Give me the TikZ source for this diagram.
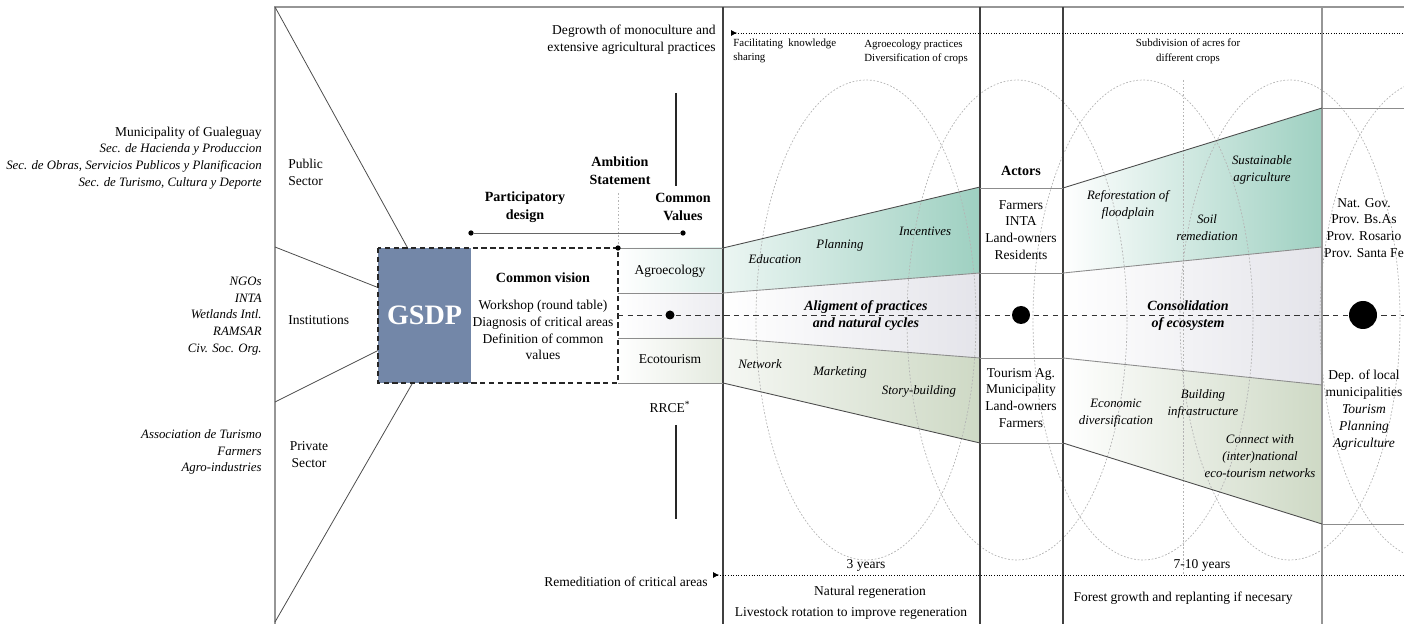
\documentclass[tikz,border=0pt]{standalone}
\usepackage{fontspec}
\setmainfont{Liberation Serif}
\usetikzlibrary{arrows.meta}

\definecolor{gsdpblue}{RGB}{115,135,168}
\definecolor{bandteal}{RGB}{158,208,193}
\definecolor{bandsage}{RGB}{206,217,197}
\definecolor{bandgray}{RGB}{228,228,234}
\definecolor{framegray}{RGB}{150,150,150}
\definecolor{ovalgray}{RGB}{180,180,180}

\begin{document}
\begin{tikzpicture}[
    x=0.02cm, y=-0.02cm,
    font=\fontsize{7.7}{9.6}\selectfont,
    framerule/.style={draw=framegray, line width=0.6pt},
    darkrule/.style={draw=black!75, line width=0.6pt},
    bandedge/.style={draw=black!70, line width=0.5pt},
    softedge/.style={draw=black!45, line width=0.5pt},
    fanline/.style={draw=black!70, line width=0.45pt},
    timeline/.style={densely dotted, line width=0.5pt, {Latex[reversed,length=3.5pt,width=3.5pt]}-},
    oval/.style={draw=ovalgray, dash pattern=on 1pt off 1pt, line width=0.4pt},
    bodytext/.style={align=center, inner sep=0pt},
    sidetext/.style={align=right, anchor=east, inner sep=0pt, font=\fontsize{7.3}{9.6}\selectfont\itshape},
    smalltext/.style={align=left, anchor=west, inner sep=0pt, font=\fontsize{6.2}{8.4}\selectfont},
    headtext/.style={align=center, inner sep=0pt, font=\fontsize{8}{10.2}\selectfont\bfseries},
    bandtext/.style={align=center, inner sep=0pt, font=\fontsize{7.3}{9.6}\selectfont\itshape},
    goaltext/.style={align=center, inner sep=0pt, font=\fontsize{8}{9.6}\selectfont\bfseries\itshape},
    stagedot/.style={circle, fill=black, inner sep=0pt},
    gsdpbox/.style={fill=gsdpblue, text=white, inner sep=0pt, outer sep=0pt, minimum width=1.86cm, minimum height=2.7cm, font=\fontsize{16}{18}\selectfont\bfseries},
]
\useasboundingbox (0,0) rectangle (1404,624);

% shaded bands
\shade[left color=white, right color=bandteal!35] (618,248) rectangle (723,293);
\shade[left color=white, right color=bandgray!70] (618,293) rectangle (723,338);
\shade[left color=white, right color=bandsage!55] (618,338) rectangle (723,383);
\shade[left color=bandteal!20, right color=bandteal] (723,248) -- (980,187) -- (980,273) -- (723,293) -- cycle;
\shade[left color=white, right color=bandgray] (723,293) -- (980,273) -- (980,358) -- (723,338) -- cycle;
\shade[left color=bandsage!20, right color=bandsage] (723,338) -- (980,358) -- (980,443) -- (723,383) -- cycle;
\shade[left color=white, right color=bandteal] (1063,188) -- (1322,108) -- (1322,247) -- (1063,273) -- cycle;
\shade[left color=white, right color=bandgray] (1063,273) -- (1322,247) -- (1322,385) -- (1063,358) -- cycle;
\shade[left color=white, right color=bandsage] (1063,358) -- (1322,385) -- (1322,524) -- (1063,443) -- cycle;

\begin{scope}
\clip (723,7) rectangle (1404,624);
\foreach \cx in {866,1017,1143,1290,1430}
    \draw[oval] (\cx,320) ellipse [x radius=110, y radius=240];
\draw[oval] (1183,80) -- (1183,575);
\end{scope}

% frame
\draw[framerule] (275,624) -- (275,7) -- (1404,7);
\draw[darkrule] (723,7) -- (723,624);
\draw[darkrule] (980,7) -- (980,624);
\draw[darkrule] (1063,7) -- (1063,624);
\draw[framerule] (1322,7) -- (1322,624);

\draw[bandedge] (723,248) -- (980,187);
\draw[softedge] (723,293) -- (980,273);
\draw[softedge] (723,338) -- (980,358);
\draw[bandedge] (723,383) -- (980,443);
\draw[bandedge] (1063,188) -- (1322,108);
\draw[softedge] (1063,273) -- (1322,247);
\draw[softedge] (1063,358) -- (1322,385);
\draw[bandedge] (1063,443) -- (1322,524);

\foreach \ry in {248,293,338,383}
    \draw[softedge] (618,\ry) -- (723,\ry);
\foreach \ry in {188,273,358,443}
    \draw[softedge] (980,\ry) -- (1063,\ry);
\draw[softedge] (1322,108) -- (1404,108);
\draw[softedge] (1322,524) -- (1404,524);

% time lines
\coordinate (degrowthstart) at (731,33);
\coordinate (degrowthend) at (1404,33);
\coordinate (remedstart) at (713,575);
\coordinate (remedend) at (1404,575);
\draw[timeline] (degrowthstart) -- (degrowthend);
\draw[timeline] (remedstart) -- (remedend);

% GSDP and fan
\node[gsdpbox] (gsdp) at (424.5,315.5) {GSDP};
\coordinate (fanpublic) at (275,7);
\coordinate (faninstup) at (275,247);
\coordinate (faninstdown) at (275,402);
\coordinate (fanprivate) at (275,622);
\draw[fanline] (fanpublic) -- (gsdp.104);
\draw[fanline] (faninstup) -- (gsdp.149);
\draw[fanline] (faninstdown) -- (gsdp.217);
\draw[fanline] (fanprivate) -- (gsdp.260);
\draw[black!85, line width=0.9pt, dash pattern=on 3pt off 2pt] (378,248) rectangle (618,383);

% centre line
\coordinate (centrestart) at (618,315);
\coordinate (centreend) at (1404,315);
\draw[black!80, line width=0.5pt, dash pattern=on 3pt off 2.5pt] (centrestart) -- (centreend);
\node[stagedot, minimum size=0.18cm] (dotsmall) at (670,315) {};
\node[stagedot, minimum size=0.36cm] (dotmid) at (1021,315) {};
\node[stagedot, minimum size=0.56cm] (dotbig) at (1363,315) {};

% bracket and values lines
\node[stagedot, minimum size=3pt] (pdstart) at (471,233) {};
\node[stagedot, minimum size=3pt] (pdend) at (683,233) {};
\draw[black!60, line width=0.5pt] (pdstart) -- (pdend);
\node[stagedot, minimum size=3pt] (ambitionfoot) at (618,248) {};
\coordinate (ambitiontop) at (618,193);
\draw[oval] (ambitiontop) -- (ambitionfoot);
\coordinate (valuestop) at (676,93);
\coordinate (valuesbottom) at (676,186);
\coordinate (rrcetop) at (676,425);
\coordinate (rrcebottom) at (676,519);
\draw[black!85, line width=0.6pt] (valuestop) -- (valuesbottom);
\draw[black!85, line width=0.6pt] (rrcetop) -- (rrcebottom);

% left side
\node[sidetext] (publicactors) at (262,158) {{\upshape\fontsize{7.7}{9.6}\selectfont Municipality of Gualeguay}\\Sec. de Hacienda y Produccion\\Sec. de Obras, Servicios Publicos y Planificacion\\Sec. de Turismo, Cultura y Deporte};
\node[sidetext] (instactors) at (262,316) {NGOs\\INTA\\Wetlands Intl.\\RAMSAR\\Civ. Soc. Org.};
\node[sidetext] (privateactors) at (262,452) {Association de Turismo\\Farmers\\Agro-industries};
\node[bodytext, anchor=west, align=left] (publicsector) at (288,172) {Public\\Sector};
\node[bodytext, anchor=west] (instsector) at (288,320) {Institutions};
\node[bodytext] (privatesector) at (309,455) {Private\\Sector};

% headings and boxes
\node[bodytext, anchor=east, align=right] (degrowth) at (716,40) {Degrowth of monoculture and\\extensive agricultural practices};
\node[bodytext, anchor=east] (remediation) at (708,582) {Remeditiation of critical areas};
\node[headtext] (ambition) at (620,171) {Ambition\\Statement};
\node[headtext] (participatory) at (525,207) {Participatory\\design};
\node[headtext] (commonvalues) at (683,207) {Common\\Values};
\node[headtext] (commonvision) at (543,278) {Common vision};
\node[bodytext] (visionitems) at (543,330) {Workshop (round table)\\Diagnosis of critical areas\\Definition of common\\values};
\node[bodytext] (agroecology) at (670,271) {Agroecology};
\node[bodytext] (ecotourism) at (670,359) {Ecotourism};
\node[bodytext] (rrce) at (670,407) {RRCE\textsuperscript{*}};

% first stage
\node[smalltext] (knowledge) at (733,51) {Facilitating\ \ knowledge\\sharing};
\node[smalltext] (agropractices) at (864,52) {Agroecology practices\\Diversification of crops};
\node[bandtext] (education) at (775,259) {Education};
\node[bandtext] (planning) at (840,245) {Planning};
\node[bandtext] (incentives) at (925,231) {Incentives};
\node[goaltext] (alignment) at (866,315.5) {Aligment of practices\\and natural cycles};
\node[bandtext] (network) at (760,364) {Network};
\node[bandtext] (marketing) at (840,372) {Marketing};
\node[bandtext] (storybuilding) at (919,391) {Story-building};
\node[bodytext] (threeyears) at (866,565) {3 years};
\node[bodytext] (naturalregen) at (870,592) {Natural regeneration};
\node[bodytext] (livestock) at (851,613) {Livestock rotation to improve regeneration};

% actors
\node[headtext] (actors) at (1021,171) {Actors};
\node[bodytext] (actorsup) at (1021,230) {Farmers\\INTA\\Land-owners\\Residents};
\node[bodytext] (actorsdown) at (1021,398) {Tourism Ag.\\Municipality\\Land-owners\\Farmers};

% second stage
\node[smalltext, anchor=center, align=center] (subdivision) at (1188,51) {Subdivision of acres for\\different crops};
\node[bandtext] (reforestation) at (1128,205) {Reforestation of\\floodplain};
\node[bandtext] (soil) at (1207,228) {Soil\\remediation};
\node[bandtext] (sustainable) at (1262,170) {Sustainable\\agriculture};
\node[goaltext] (consolidation) at (1188,315.5) {Consolidation\\of ecosystem};
\node[bandtext] (economic) at (1116,413) {Economic\\diversification};
\node[bandtext] (building) at (1203,404) {Building\\infrastructure};
\node[bandtext] (connect) at (1260,456) {Connect with\\(inter)national\\eco-tourism networks};
\node[bodytext] (sevenyears) at (1202,565) {7-10 years};
\node[bodytext] (forestgrowth) at (1183,598) {Forest growth and replanting if necesary};

% right column
\node[bodytext] (govup) at (1364,228) {Nat. Gov.\\Prov. Bs.As\\Prov. Rosario\\Prov. Santa Fe};
\node[bodytext] (govdown) at (1364,410) {Dep. of local\\municipalities\\\textit{Tourism}\\\textit{Planning}\\\textit{Agriculture}};

\end{tikzpicture}
\end{document}
